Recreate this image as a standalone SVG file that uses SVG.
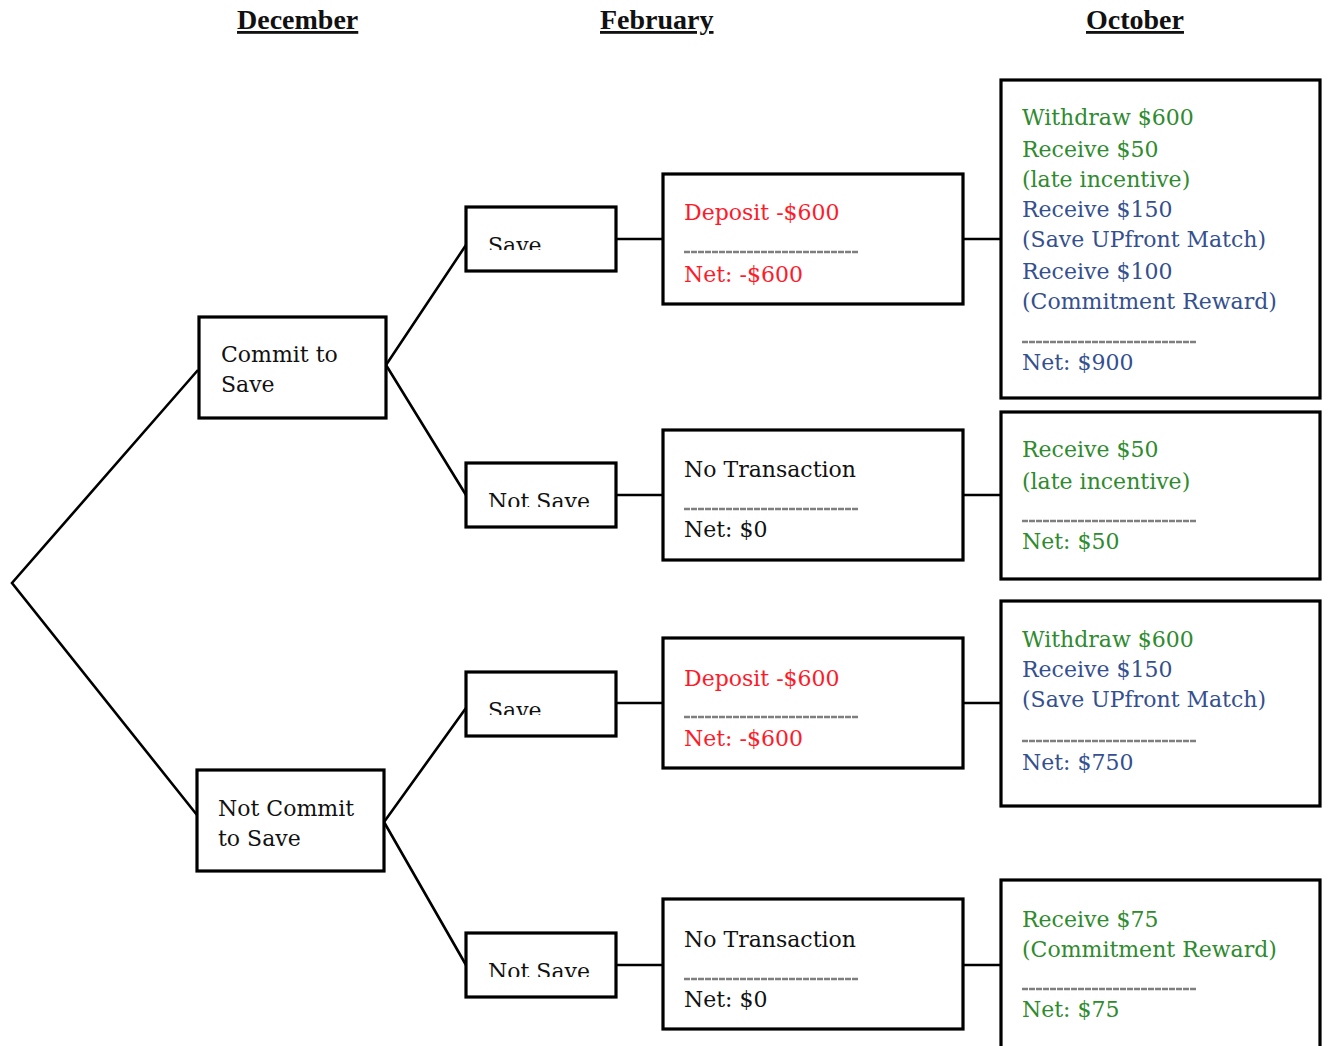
<svg xmlns="http://www.w3.org/2000/svg" width="1328" height="1046" viewBox="0 0 1328 1046">
<style>
.box{fill:#fff;stroke:#000;stroke-width:3.2}
.ln{stroke:#000;stroke-width:2.6;fill:none}
.t{font-family:"DejaVu Serif","Liberation Serif",serif;font-size:22px;fill:#111}
.hd{font-family:"Liberation Serif","DejaVu Serif",serif;font-size:28px;font-weight:bold;fill:#111;text-decoration:underline}
.r{fill:#ff1a2a}
.g{fill:#2e8b2e}
.b{fill:#34508f}
.sep{stroke:#7f7f7f;stroke-width:2.5;stroke-dasharray:6 1}
</style>
<defs>
<clipPath id="c1"><rect x="466" y="207" width="150" height="43"/></clipPath>
<clipPath id="c2"><rect x="466" y="463" width="150" height="44"/></clipPath>
<clipPath id="c3"><rect x="466" y="672" width="150" height="43"/></clipPath>
<clipPath id="c4"><rect x="466" y="933" width="150" height="44"/></clipPath>
</defs>
<rect width="1328" height="1046" fill="#fff"/>
<g id="headers">
<text class="hd" x="237" y="29">December</text>
<text class="hd" x="600" y="29">February</text>
<text class="hd" x="1086" y="29">October</text>
</g>
<g id="connectors">
<polyline class="ln" points="198,370 12,583 197,815"/>
<polyline class="ln" points="466,245 386,365 466,495"/>
<polyline class="ln" points="466,708 384,822 466,965"/>
<line class="ln" x1="616" y1="239" x2="663" y2="239"/>
<line class="ln" x1="616" y1="495" x2="663" y2="495"/>
<line class="ln" x1="616" y1="703" x2="663" y2="703"/>
<line class="ln" x1="616" y1="965" x2="663" y2="965"/>
<line class="ln" x1="963" y1="239" x2="1001" y2="239"/>
<line class="ln" x1="963" y1="495" x2="1001" y2="495"/>
<line class="ln" x1="963" y1="703" x2="1001" y2="703"/>
<line class="ln" x1="963" y1="965" x2="1001" y2="965"/>
</g>
<g id="commit">
<rect class="box" x="199" y="317" width="187" height="101"/>
<text class="t" x="221" y="362">Commit to</text>
<text class="t" x="221" y="392">Save</text>
</g>
<g id="notcommit">
<rect class="box" x="197" y="770" width="187" height="101"/>
<text class="t" x="218" y="816">Not Commit</text>
<text class="t" x="218" y="846">to Save</text>
</g>
<g id="save1">
<rect class="box" x="466" y="207" width="150" height="64"/>
<text class="t" x="488" y="253" clip-path="url(#c1)">Save</text>
</g>
<g id="notsave1">
<rect class="box" x="466" y="463" width="150" height="64"/>
<text class="t" x="488" y="509" clip-path="url(#c2)">Not Save</text>
</g>
<g id="save2">
<rect class="box" x="466" y="672" width="150" height="64"/>
<text class="t" x="488" y="718" clip-path="url(#c3)">Save</text>
</g>
<g id="notsave2">
<rect class="box" x="466" y="933" width="150" height="64"/>
<text class="t" x="488" y="979" clip-path="url(#c4)">Not Save</text>
</g>
<g id="feb1">
<rect class="box" x="663" y="174" width="300" height="130"/>
<text class="t r" x="684" y="220">Deposit -$600</text>
<line class="sep" x1="684" y1="252" x2="858" y2="252"/>
<text class="t r" x="684" y="282">Net: -$600</text>
</g>
<g id="feb2">
<rect class="box" x="663" y="430" width="300" height="130"/>
<text class="t" x="684" y="477">No Transaction</text>
<line class="sep" x1="684" y1="509" x2="858" y2="509"/>
<text class="t" x="684" y="537">Net: $0</text>
</g>
<g id="feb3">
<rect class="box" x="663" y="638" width="300" height="130"/>
<text class="t r" x="684" y="686">Deposit -$600</text>
<line class="sep" x1="684" y1="717" x2="858" y2="717"/>
<text class="t r" x="684" y="746">Net: -$600</text>
</g>
<g id="feb4">
<rect class="box" x="663" y="899" width="300" height="130"/>
<text class="t" x="684" y="947">No Transaction</text>
<line class="sep" x1="684" y1="979" x2="858" y2="979"/>
<text class="t" x="684" y="1007">Net: $0</text>
</g>
<g id="oct1">
<rect class="box" x="1001" y="80" width="319" height="318"/>
<text class="t g" x="1022" y="125">Withdraw $600</text>
<text class="t g" x="1022" y="157">Receive $50</text>
<text class="t g" x="1022" y="187">(late incentive)</text>
<text class="t b" x="1022" y="217">Receive $150</text>
<text class="t b" x="1022" y="247">(Save UPfront Match)</text>
<text class="t b" x="1022" y="279">Receive $100</text>
<text class="t b" x="1022" y="309">(Commitment Reward)</text>
<line class="sep" x1="1022" y1="342" x2="1196" y2="342"/>
<text class="t b" x="1022" y="370">Net: $900</text>
</g>
<g id="oct2">
<rect class="box" x="1001" y="412" width="319" height="167"/>
<text class="t g" x="1022" y="457">Receive $50</text>
<text class="t g" x="1022" y="489">(late incentive)</text>
<line class="sep" x1="1022" y1="521" x2="1196" y2="521"/>
<text class="t g" x="1022" y="549">Net: $50</text>
</g>
<g id="oct3">
<rect class="box" x="1001" y="601" width="319" height="205"/>
<text class="t g" x="1022" y="647">Withdraw $600</text>
<text class="t b" x="1022" y="677">Receive $150</text>
<text class="t b" x="1022" y="707">(Save UPfront Match)</text>
<line class="sep" x1="1022" y1="741" x2="1196" y2="741"/>
<text class="t b" x="1022" y="770">Net: $750</text>
</g>
<g id="oct4">
<rect class="box" x="1001" y="880" width="319" height="180"/>
<text class="t g" x="1022" y="927">Receive $75</text>
<text class="t g" x="1022" y="957">(Commitment Reward)</text>
<line class="sep" x1="1022" y1="989" x2="1196" y2="989"/>
<text class="t g" x="1022" y="1017">Net: $75</text>
</g>
</svg>
